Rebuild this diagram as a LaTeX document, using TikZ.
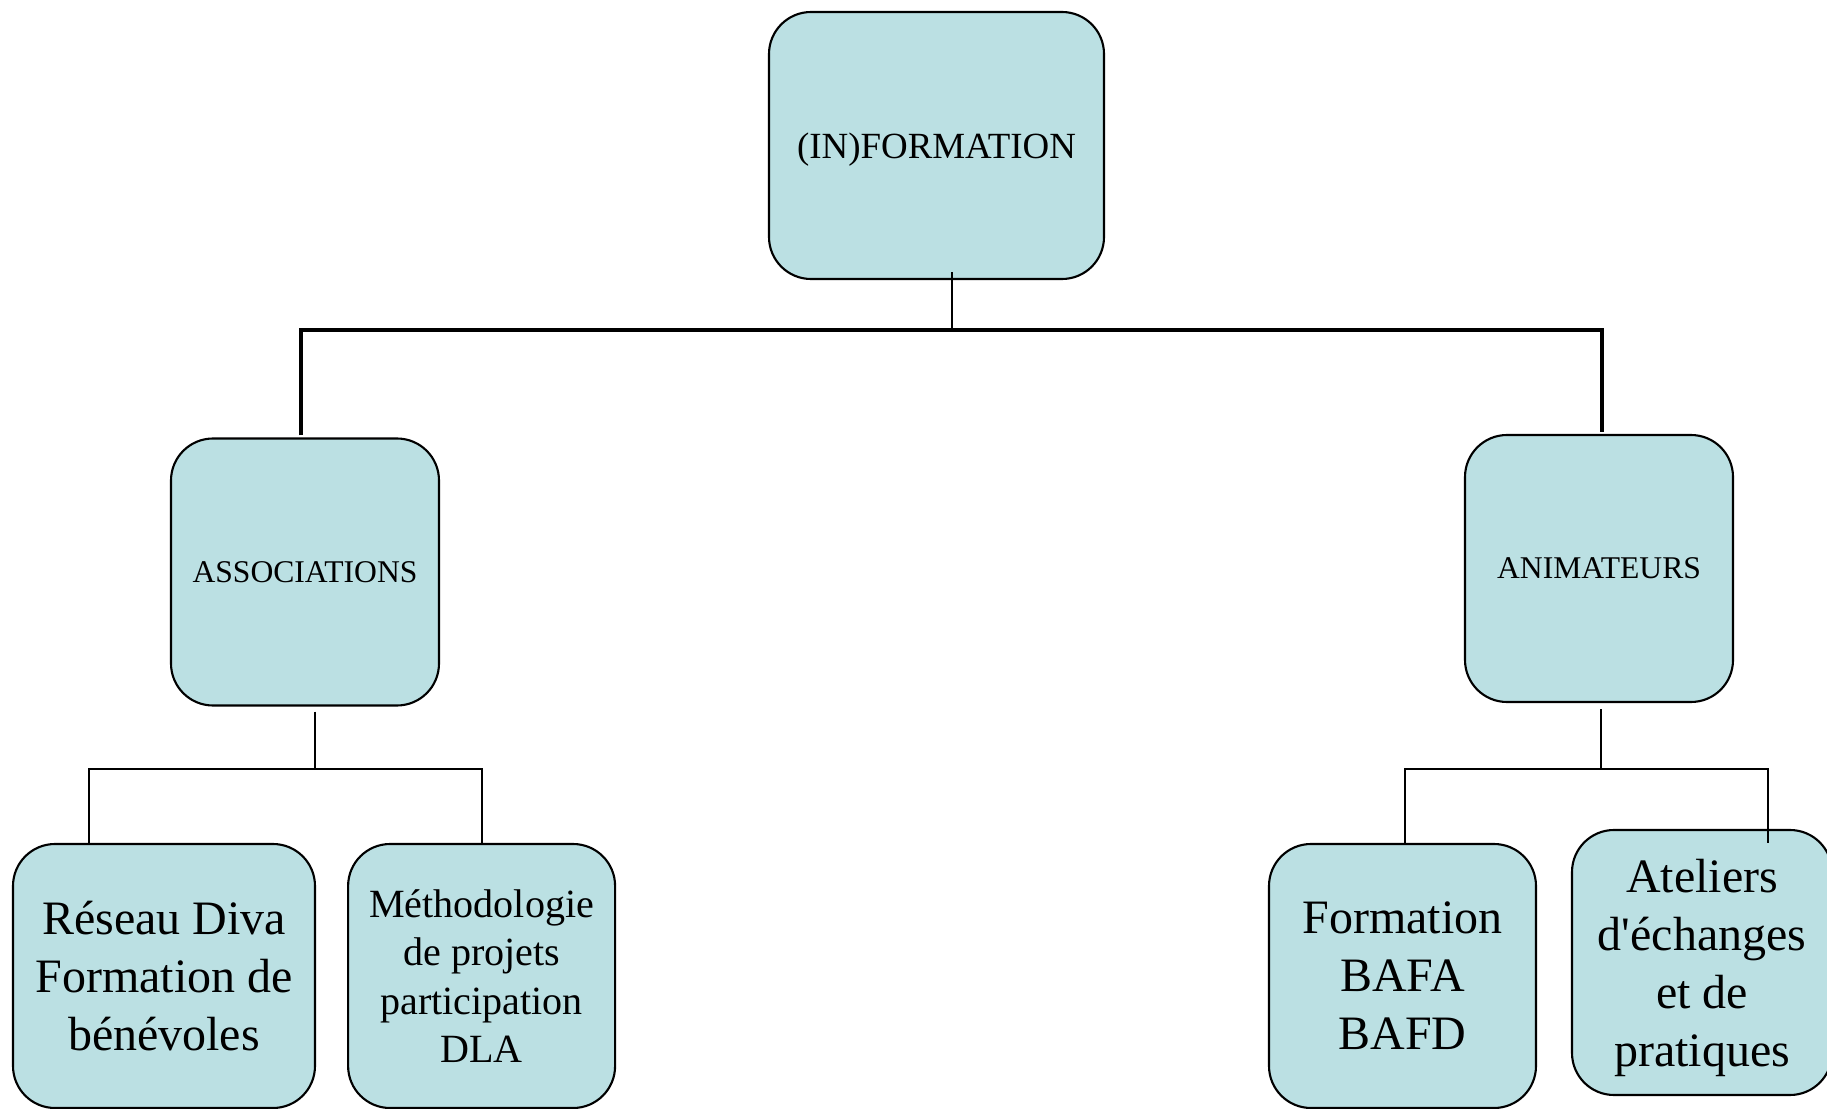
\documentclass[tikz,border=0pt]{standalone}
\usepackage{fontspec}
\setmainfont{Liberation Serif}[Ligatures=TeXOff]
\usepackage{tikz}
\usetikzlibrary{positioning,calc}
\definecolor{orgfill}{RGB}{187,224,227}

\begin{document}
\begin{tikzpicture}[
    unit/.style={rectangle, draw=black, fill=orgfill, line width=0.6pt, rounded corners=0.42cm, align=center, inner sep=0pt, text depth=0pt},
    head/.style={unit, minimum width=3.35cm, minimum height=2.67cm, font=\fontsize{10.5}{12.6}\selectfont},
    branch/.style={unit, minimum width=2.68cm, minimum height=2.67cm, font=\fontsize{9}{10.8}\selectfont},
    leaf/.style={unit, minimum width=2.67cm, minimum height=2.64cm, font=\fontsize{13.65}{16.5}\selectfont},
    bus/.style={line width=0.9pt},
    tie/.style={line width=0.6pt},
    node distance=0.31cm
]
    \useasboundingbox (0,0) rectangle (18.27,-11.09);

    \node[head] (info) at (9.365,-1.455) {(IN)FORMATION};
    \node[branch] (assoc) at (3.05,-5.72) {ASSOCIATIONS};
    \node[branch] (anim) at (15.99,-5.685) {ANIMATEURS};
    \node[leaf, minimum width=3.02cm] (diva) at (1.64,-9.76) {Réseau Diva\\Formation de\\bénévoles};
    \node[leaf, right=of diva, font=\fontsize{11.4}{13.7}\selectfont] (methodo) {Méthodologie\\de projets\\participation\\DLA};
    \node[leaf] (bafa) at (14.025,-9.76) {Formation\\BAFA\\BAFD};
    \node[leaf, minimum width=2.60cm, minimum height=2.65cm] (ateliers) at (17.02,-9.625) {Ateliers\\d'échanges\\et de\\pratiques};

    % first level
    \coordinate (hub) at (9.52,-3.30);
    \coordinate (hubL) at (3.01,-3.30);
    \coordinate (hubR) at (16.02,-3.30);
    \draw[tie] ($(info.south -| hub)+(0,0.08)$) -- (hub);
    \draw[bus] ($(hubL |- assoc.north)+(0,0.02)$) -- (hubL) -- (hubR) -- ($(hubR |- anim.north)+(0,0.02)$);

    % second level, left
    \coordinate (forkL) at (3.15,-7.69);
    \coordinate (forkLa) at (0.89,-7.69);
    \coordinate (forkLb) at (4.82,-7.69);
    \draw[tie] ($(assoc.south -| forkL)+(0,-0.05)$) -- (forkL);
    \draw[tie] (forkLa |- diva.north) -- (forkLa) -- (forkLb) -- (forkLb |- methodo.north);

    % second level, right
    \coordinate (forkR) at (16.01,-7.69);
    \coordinate (forkRa) at (14.05,-7.69);
    \coordinate (forkRb) at (17.68,-7.69);
    \draw[tie] ($(anim.south -| forkR)+(0,-0.06)$) -- (forkR);
    \draw[tie] (forkRa |- bafa.north) -- (forkRa) -- (forkRb) -- (forkRb |- bafa.north);
\end{tikzpicture}
\end{document}
